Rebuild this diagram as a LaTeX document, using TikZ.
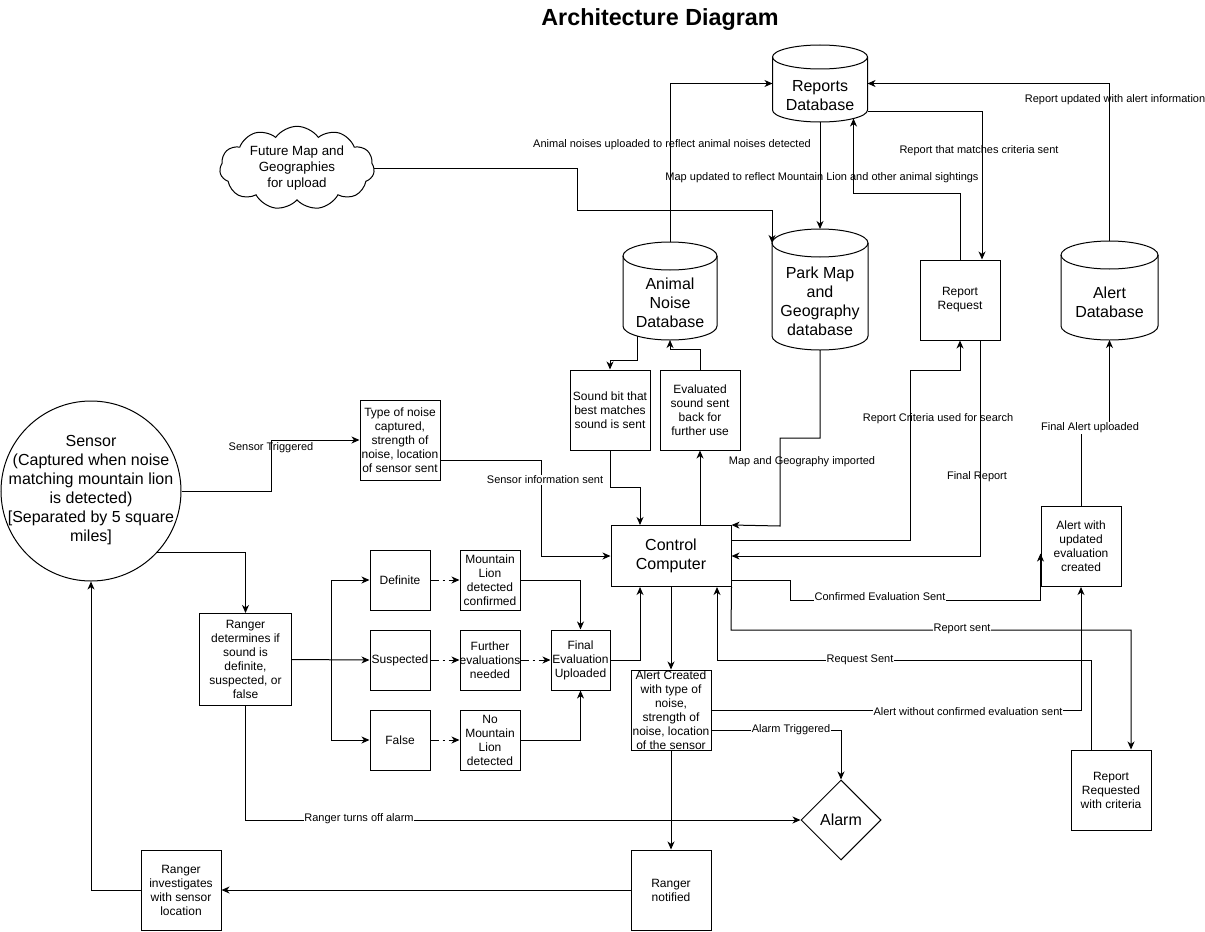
\documentclass[tikz,border=0pt]{standalone}
\usepackage{fontspec}
\setmainfont{Liberation Sans}
\usetikzlibrary{shapes.geometric,shapes.symbols,arrows.meta,calc}
\newcommand\lblfont{\fontsize{8.25pt}{9.9pt}\selectfont}
\newcommand\boxfont{\fontsize{9pt}{10.5pt}\selectfont}
\newcommand\bigfont{\fontsize{12pt}{14.25pt}\selectfont}
\newcommand\cloudfont{\fontsize{10pt}{12pt}\selectfont}
\newcommand\titlefont{\fontsize{17.5pt}{21pt}\selectfont\bfseries}
\newcommand\ov[1]{\makebox[0pt]{#1}}
% cylinder: name, cx, top, width, height, ry (px), text
\newcommand\dbcyl[7]{%
  \node[inner sep=0pt,outer sep=0pt,minimum width=#4*0.75pt,minimum height=#5*0.75pt] (#1) at (#2,{#3+#5/2}) {};
  \draw (#2-#4/2,#3+#6) -- (#2-#4/2,#3+#5-#6) arc[start angle=180,end angle=360,x radius=#4*0.375pt,y radius=#6*0.75pt] -- (#2+#4/2,#3+#6);
  \draw (#2,#3+#6) ellipse[x radius=#4*0.375pt,y radius=#6*0.75pt];
  \node[align=center,font=\bigfont,inner sep=0pt] (#1t) at (#2,{#3+#5/2+12}) {#7};
}
\begin{document}
\begin{tikzpicture}[x=0.75pt,y=-0.75pt,line width=0.75pt,
  arr/.style={-{Stealth[length=6pt,width=5.2pt,inset=1.8pt]}},
  dsh/.style={dash pattern=on 6pt off 3pt on 1.5pt off 3pt},
  box/.style={draw,minimum width=60pt,minimum height=60pt,inner sep=1pt,align=center,font=\boxfont},
  sbox/.style={box,minimum width=45pt,minimum height=45pt},
  lbl/.style={font=\lblfont,fill=white,inner sep=0.6pt},
  lbln/.style={font=\lblfont,inner sep=0.6pt}]
\useasboundingbox (0,0) rectangle (1205,931);

\node[font=\titlefont] (title) at (660,20) {Architecture Diagram};

% databases
\dbcyl{reports}{820}{45}{95}{77}{12}{Reports\\Database}
\dbcyl{animal}{670}{242}{94}{98}{14}{Animal\\Noise\\Database}
\dbcyl{park}{820}{229}{96}{121}{14}{Park Map\\and\\Geography\\database}
\dbcyl{alertdb}{1109.5}{241}{97}{99}{14}{Alert\\Database}

% cloud
\node[cloud,draw,cloud puffs=11,cloud puff arc=110,aspect=2,minimum width=116pt,minimum height=62pt,inner sep=0pt,align=center,font=\cloudfont] (cloud) at (297,168) {Future Map and\\Geographies\\for upload};

% sensor
\node[circle,draw,minimum size=135pt,inner sep=0pt] (sensor) at (91,491) {};
\node[align=center,inner sep=0pt,font=\fontsize{12pt}{14.25pt}\selectfont] (sensort) at (91,490)
  {Sensor\\(Captured when noise\\matching mountain lion\\is detected)\\{[}Separated by 5 square\\miles{]}};

% boxes
\node[box] (rreq) at (960,300) {Report\\Request};
\node[box] (sound) at (610,410) {Sound bit that\\best matches\\sound is sent};
\node[box] (evald) at (700,410) {Evaluated\\sound sent\\back for\\further use};
\node[box] (type) at (400,440) {Type of noise\\captured,\\strength of\\noise, location\\of sensor sent};
\node[box,minimum width=90pt,minimum height=45.75pt,font=\bigfont] (cc) at (671,556) {Control\\Computer};
\node[box,minimum width=69pt,minimum height=69pt] (rdet) at (245.5,659.5) {Ranger\\determines if\\sound is\\definite,\\suspected, or\\false};
\node[sbox] (def) at (400,580) {Definite};
\node[sbox] (sus) at (400,660) {\ov{Suspected}};
\node[sbox] (fal) at (400,740) {False};
\node[sbox] (mlc) at (490,580) {Mountain\\Lion\\detected\\confirmed};
\node[sbox] (fur) at (490,660) {Further\\\ov{evaluations}\\needed};
\node[sbox] (nml) at (490,740) {No\\Mountain\\Lion\\detected};
\node[sbox,minimum width=44.25pt] (fin) at (580.5,660) {Final\\Evaluation\\Uploaded};
\node[box,inner sep=0pt] (acr) at (671,710) {Alert Created\\with type of\\noise,\\strength of\\\ov{noise, location}\\of the sensor};
\node[box] (rnot) at (671,890) {Ranger\\notified};
\node[box] (rinv) at (181,890) {Ranger\\investigates\\with sensor\\location};
\node[diamond,draw,minimum width=60pt,minimum height=60pt,inner sep=0pt,font=\bigfont] (alarm) at (841,820) {Alarm};
\node[box] (aupd) at (1081,546.5) {Alert with\\updated\\evaluation\\created};
\node[box] (rrq) at (1111,790) {Report\\Requested\\with criteria};

% connectors (top)
\draw[arr] (animal.north) |- (reports.west);
\draw[arr] (alertdb.north) |- (reports.east);
\draw[arr] (reports.south) -- (park.north);
\draw[arr] ($(reports.east)+(0,28)$) -| ($(rreq.north)+(22,0)$);
\draw[arr] (rreq.north) -- (960,193) -| ($(reports.south)+(33.5,-3.5)$);
\draw[arr] (cloud.east) -| (577,210) -| ($(park.north west)+(0,14)$);

% databases to middle
\draw[arr] ($(animal.south)+(-33,-4)$) -- ++(0,24) -| (sound.north);
\draw[arr] (evald.north) -- ++(0,-20) -| (animal.south);
\draw[arr] (sound.south) -- ++(0,37) -| ($(cc.north)+(-31,0)$);
\draw[arr] ($(cc.north)+(29,0)$) -- (evald.south);
\draw[arr] (park.south) -- (820,438) -| (780,526) -- (cc.north east);
\draw[arr] ($(cc.east)+(0,-16)$) -| (910,370) -| (rreq.south);
\draw[arr] ($(rreq.south)+(20,0)$) |- (cc.east);

% sensor side
\draw[arr] (sensor.east) -| (271,440) -- (type.west);
\draw[arr] ($(type.east)+(0,20)$) -| (541,556) -- (cc.west);
\draw[arr] (sensor.-43.6) -| (rdet.north);
\coordinate (br) at (331,660);
\draw[arr] (rdet.east) -- (sus.west);
\draw[arr] (br) |- (def.west);
\draw[arr] (br) |- (fal.west);
\draw[arr,dsh] (def.east) -- (mlc.west);
\draw[arr,dsh] (sus.east) -- (fur.west);
\draw[arr,dsh] (fal.east) -- (nml.west);
\draw[arr,dsh] (fur.east) -- (fin.west);
\draw[arr] (mlc.east) -| (fin.north);
\draw[arr] (nml.east) -| (fin.south);
\draw[arr] (fin.east) -| ($(cc.south)+(-31,0)$);

% bottom
\draw[arr] (cc.south) -- (acr.north);
\draw[arr] (acr.south) -- (rnot.north);
\draw[arr] (rnot.west) -- (rinv.east);
\draw[arr] (rinv.west) -| (sensor.south);
\draw[arr] (rdet.south) |- (alarm.west);
\draw[arr] ($(acr.east)+(0,20)$) -| (alarm.north);
\draw[arr] (acr.east) -| (aupd.south);
\draw[arr] ($(cc.east)+(0,24)$) -| (790,600) -| ($(aupd.west)+(0,7)$);
\draw[arr] (cc.south east) -- (731,630) -| ($(rrq.north)+(20,0)$);
\draw[arr] ($(rrq.north)+(-20,0)$) -- (1091,660) -| ($(cc.south)+(46,0)$);
\draw[arr] (aupd.north) -- (1081,428) -| (alertdb.south);

% labels
\node[lbln] (l1) at (672,145) {Animal noises uploaded to reflect animal noises detected};
\node[lbln] (l2) at (1115,100) {Report updated with alert information};
\node[lbln] (l3) at (822,178) {Map updated to reflect Mountain Lion and other animal sightings};
\node[lbln] (l4) at (979,151) {Report that matches criteria sent};
\node[lbln] (l5) at (802,462) {Map and Geography imported};
\node[lbln] (l6) at (938,419) {Report Criteria used for search};
\node[lbln] (l7) at (977,477) {Final Report};
\node[lbln] (l8) at (271,448) {Sensor Triggered};
\node[lbl] (l9) at (545,480) {Sensor information sent};
\node[lbl] (l10) at (1090,428) {Final Alert uploaded};
\node[lbl] (l11) at (880,597) {Confirmed Evaluation Sent};
\node[lbl] (l12) at (962,629) {Report sent};
\node[lbl] (l13) at (860,660) {Request Sent};
\node[lbl] (l14) at (968,712) {Alert without confirmed evaluation sent};
\node[lbl] (l15) at (791,730) {Alarm Triggered};
\node[lbl] (l16) at (359,819) {Ranger turns off alarm};
\end{tikzpicture}
\end{document}
